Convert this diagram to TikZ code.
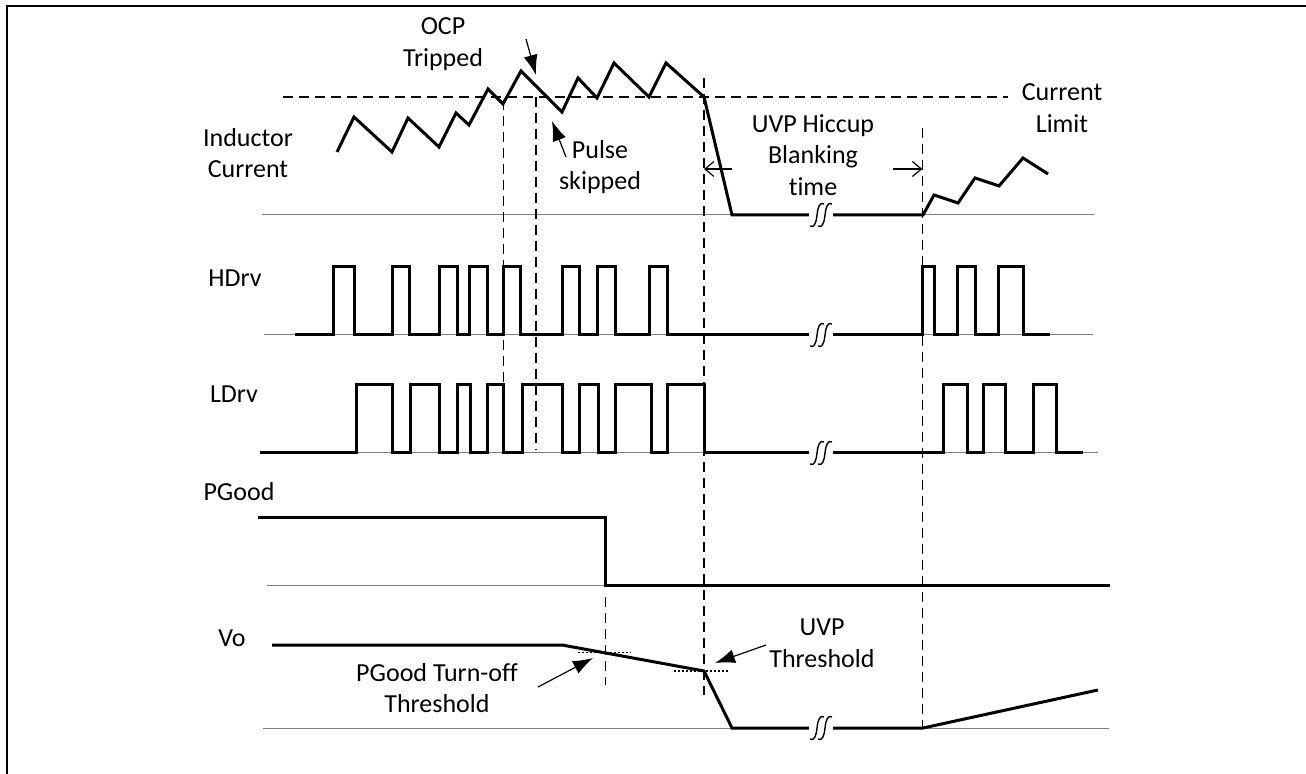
\documentclass[tikz,border=0pt]{standalone}
\usepackage{fontspec}
\setmainfont{Carlito}[Ligatures={NoCommon}]
\usetikzlibrary{arrows.meta}
\usetikzlibrary{positioning}

\begin{document}
\begin{tikzpicture}[x=0.5pt,y=-0.5pt,
    every node/.style={font=\fontsize{13pt}{15.8pt}\selectfont,align=center,inner sep=0pt},
    wave/.style={line width=1.5pt,line join=miter},
    base/.style={line width=0.5pt,gray},
    guide/.style={line width=0.6pt,dash pattern=on 5pt off 3pt},
    thresh/.style={line width=0.6pt,dash pattern=on 1pt off 1pt},
    pointer/.style={line width=0.6pt,-{Latex[length=10pt,width=7pt]}},
    span/.style={line width=0.6pt,-{Straight Barb[length=4.5pt,width=7.5pt]}},
    brk/.pic={
        \fill[white] (-12,-13) rectangle (12,13);
        \foreach \d in {-4,4}
            \draw[line width=0.7pt] ({\d-7},11) .. controls ({\d-3},13) and ({\d-1},9) .. (\d,0)
                .. controls ({\d+1},-9) and ({\d+3},-13) .. ({\d+7},-11);
    }]
    \useasboundingbox (0,0) rectangle (1306,774);
    \draw[line width=1pt] (6.5,774) -- (6.5,6.5) -- (1306,6.5);

    % signal names
    \node (ind) at (248,153) {Inductor\\Current};
    \node (hdrv) at (235,278) {HDrv};
    \node (ldrv) at (234,394) {LDrv};
    \node (pgood) at (239,492) {PGood};
    \node (vo) at (232,638) {Vo};

    % zero lines
    \draw[base] (262,215) -- (1094,215);
    \draw[base] (264,335) -- (1093,335);
    \draw[base] (260,453) -- (1098,453);
    \draw[base] (267,586) -- (1110,586);
    \draw[base] (263,728) -- (1109,728);

    % current limit
    \draw[guide] (283,97) -- (1008,97);
    \node (limit) at (1062,108) {Current\\Limit};

    % inductor current
    \draw[wave] (337,152) -- (354,117) -- (392,152) -- (408,118) -- (439,147) -- (456,113)
        -- (469,125) -- (488,89) -- (503,104) -- (521,71) -- (562,112) -- (578,78) -- (597,98)
        -- (614,63) -- (649,97) -- (666,63) -- (704,97) -- (732,215) -- (923,215) -- (934,195)
        -- (958,203) -- (975,178) -- (999,186) -- (1023,158) -- (1048,174);

    % HDrv
    \draw[wave] (295,335) foreach \r/\f in {333/354,392/409,439/457,469/487,503/520,562/579,
        597/615,649/667,922/934,957/975,998/1023} { -- (\r,335) -- (\r,267) -- (\f,267) -- (\f,335) }
        -- (1050,335);

    % LDrv
    \draw[wave] (260,453) foreach \r/\f in {356/392,410/439,457/470,487/503,522/562,579/598,
        615/651,667/704,943/967,983/1005,1033/1056} { -- (\r,453) -- (\r,385) -- (\f,385) -- (\f,453) }
        -- (1083,453);

    % PGood
    \draw[wave] (258,518) -- (605.5,518) -- (605.5,586) -- (1110,586);

    % Vo
    \draw[wave] (272,645) -- (562,645) -- (704,671) -- (732,728) -- (923,728) -- (1098,690);
    \draw[thresh] (578,652.7) -- (631,652.7);
    \draw[thresh] (674,671) -- (728,671);

    % breaks
    \pic at (821,215) {brk};
    \pic at (821,335) {brk};
    \pic at (821,453) {brk};
    \pic at (821,728) {brk};

    % timing guides
    \draw[guide] (503.3,100) -- (503.3,385);
    \draw[guide] (536,97) -- (536,450);
    \draw[guide] (704,78) -- (704,695);
    \draw[guide] (922.3,128) -- (922.3,728);
    \draw[guide] (605.5,597) -- (605.5,685);

    % annotations
    \node (ocp) at (443,44) {OCP\\Tripped};
    \coordinate (ocp-tail) at (526,39);
    \coordinate (ocp-tip) at (536,75);
    \draw[pointer] (ocp-tail) -- (ocp-tip);

    \node (skip) at (600,167) {Pulse\\skipped};
    \coordinate (skip-tail) at (566,157);
    \coordinate (skip-tip) at (552,121);
    \draw[pointer] (skip-tail) -- (skip-tip);

    \node (blank) at (813,155) {UVP Hiccup\\Blanking\\time};
    \coordinate (blank-l) at (732,169);
    \coordinate (blank-lend) at (704,169);
    \coordinate (blank-r) at (893,169);
    \coordinate (blank-rend) at (922.3,169);
    \draw[span] (blank-l) -- (blank-lend);
    \draw[span] (blank-r) -- (blank-rend);

    \node (pgth) at (437,688) {PGood Turn-off\\Threshold};
    \coordinate (pg-tail) at (538,687);
    \coordinate (pg-tip) at (593,658);
    \draw[pointer] (pg-tail) -- (pg-tip);

    \node (uvpth) at (822,643) {UVP\\Threshold};
    \coordinate (uvp-tail) at (766,645);
    \coordinate (uvp-tip) at (715,663);
    \draw[pointer] (uvp-tail) -- (uvp-tip);
\end{tikzpicture}
\end{document}
